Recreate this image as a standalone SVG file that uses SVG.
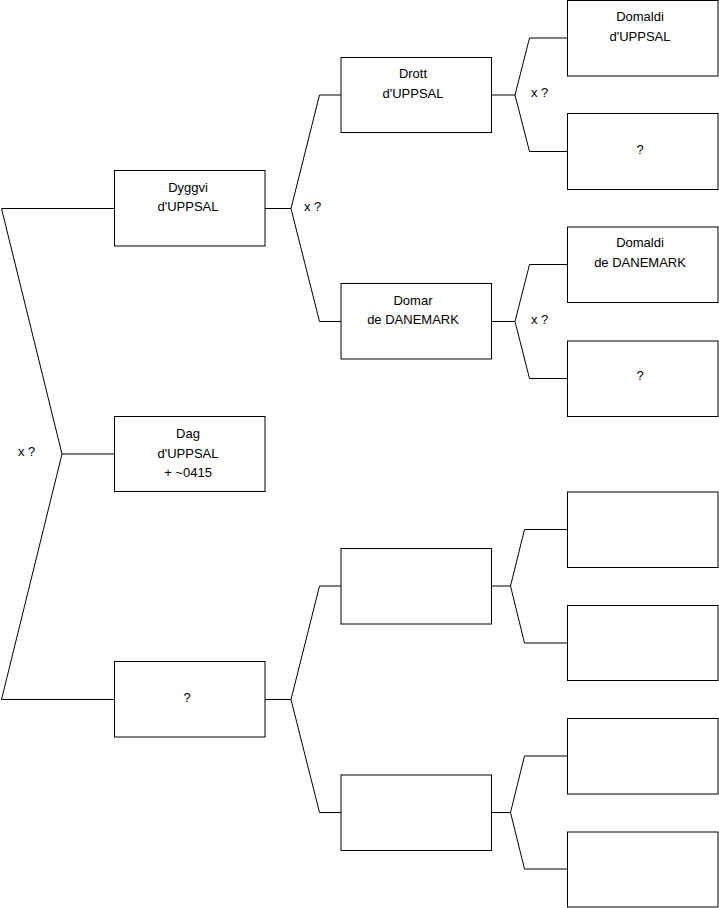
<svg xmlns="http://www.w3.org/2000/svg" width="719" height="908" viewBox="0 0 719 908">
<style>
.box{fill:#fff;stroke:#000;stroke-width:1}
.ln{fill:none;stroke:#000;stroke-width:1}
text{font-family:"Liberation Sans",Arial,sans-serif;font-size:13px;fill:#000}
.c{text-anchor:middle}
</style>
<rect width="719" height="908" fill="#fff"/>
<g id="connectors">
<path class="ln" d="M114,208.5 H1.5 L62,454 L1.5,699.5 H114 M62,454 H114"/>
<path class="ln" d="M265,208.5 H291 L319.5,95 H341 M291,208.5 L319.5,321.5 H341"/>
<path class="ln" d="M491,95 H515 L529.5,38 H567 M515,95 L529.5,151.5 H567"/>
<path class="ln" d="M491,321.5 H515 L529.5,264.5 H567 M515,321.5 L529.5,378.5 H567"/>
<path class="ln" d="M265,699.5 H291 L319.5,586 H341 M291,699.5 L319.5,812.5 H341"/>
<path class="ln" d="M491,586 H510.5 L524.5,529.5 H567 M510.5,586 L524.5,643 H567"/>
<path class="ln" d="M491,812.5 H510.5 L524.5,756 H567 M510.5,812.5 L524.5,869 H567"/>
<text x="304" y="211">x ?</text>
<text x="531" y="97">x ?</text>
<text x="531" y="324">x ?</text>
<text x="18" y="456">x ?</text>
</g>
<g id="n-dyggvi"><rect class="box" x="114.5" y="170.5" width="150.5" height="75.5"/><text class="c" x="188" y="192">Dyggvi</text><text class="c" x="188" y="211">d'UPPSAL</text></g>
<g id="n-dag"><rect class="box" x="114.5" y="416.5" width="150.5" height="75"/><text class="c" x="188" y="438">Dag</text><text class="c" x="188" y="458">d'UPPSAL</text><text class="c" x="188" y="477"> + ~0415</text></g>
<g id="n-unk1"><rect class="box" x="114.5" y="661.5" width="150.5" height="75.5"/><text class="c" x="187" y="702">?</text></g>
<g id="n-drott"><rect class="box" x="341" y="57.5" width="150.5" height="75"/><text class="c" x="413" y="78">Drott</text><text class="c" x="413" y="98">d'UPPSAL</text></g>
<g id="n-domar"><rect class="box" x="341" y="283.5" width="150.5" height="75.5"/><text class="c" x="413" y="305">Domar</text><text class="c" x="413" y="324">de DANEMARK</text></g>
<g id="n-domaldi-u"><rect class="box" x="567.5" y="0.5" width="150.5" height="75.5"/><text class="c" x="640" y="21">Domaldi</text><text class="c" x="640" y="41">d'UPPSAL</text></g>
<g id="n-unk2"><rect class="box" x="567.5" y="113.5" width="150.5" height="76"/><text class="c" x="640" y="154">?</text></g>
<g id="n-domaldi-d"><rect class="box" x="567.5" y="227" width="150.5" height="75.5"/><text class="c" x="640" y="247">Domaldi</text><text class="c" x="640" y="267">de DANEMARK</text></g>
<g id="n-unk3"><rect class="box" x="567.5" y="341" width="150.5" height="75.5"/><text class="c" x="640" y="380">?</text></g>
<g id="n-b1"><rect class="box" x="341" y="548.5" width="150.5" height="75.5"/></g>
<g id="n-b2"><rect class="box" x="341" y="775" width="150.5" height="75.5"/></g>
<g id="n-b3"><rect class="box" x="567.5" y="492" width="150.5" height="75.5"/></g>
<g id="n-b4"><rect class="box" x="567.5" y="605.5" width="150.5" height="75"/></g>
<g id="n-b5"><rect class="box" x="567.5" y="718.5" width="150.5" height="75.5"/></g>
<g id="n-b6"><rect class="box" x="567.5" y="832" width="150.5" height="75"/></g>
</svg>
